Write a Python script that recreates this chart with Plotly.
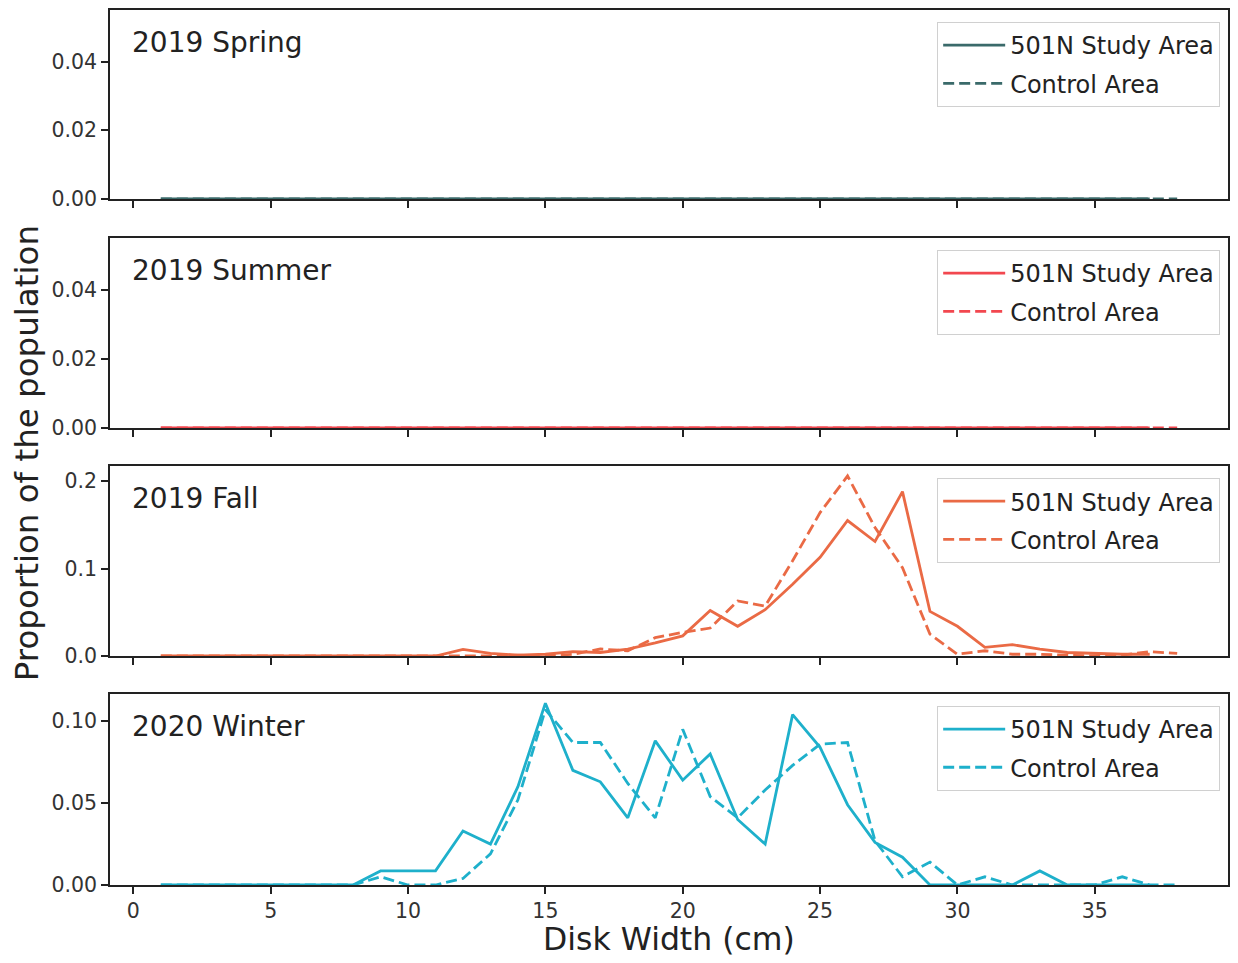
import plotly.graph_objects as go
from plotly.subplots import make_subplots

# disk width bins (cm)
x_study = list(range(1, 38))
x_control = list(range(1, 39))

seasons = ["2019 Spring", "2019 Summer", "2019 Fall", "2020 Winter"]
colors = ["#3a6a6a", "#f2474f", "#ea6a45", "#1eb0cb"]

spring_study = [0.0] * 37
spring_control = [0.0] * 38
summer_study = [0.0] * 37
summer_control = [0.0] * 38

fall_study = [0, 0, 0, 0, 0, 0, 0, 0, 0, 0, 0, 0.0076, 0.003, 0.001, 0.002,
              0.005, 0.004, 0.008, 0.015, 0.023, 0.052, 0.034, 0.053, 0.082,
              0.113, 0.155, 0.131, 0.188, 0.051, 0.034, 0.010, 0.013, 0.008,
              0.004, 0.003, 0.002, 0.002]
fall_control = [0, 0, 0, 0, 0, 0, 0, 0, 0, 0, 0, 0, 0, 0.001, 0.0, 0.002,
                0.008, 0.006, 0.021, 0.027, 0.032, 0.063, 0.057, 0.109, 0.164,
                0.206, 0.147, 0.101, 0.025, 0.002, 0.006, 0.002, 0.002, 0.001,
                0.0, 0.001, 0.005, 0.003]

winter_study = [0, 0, 0, 0, 0, 0, 0, 0, 0.0086, 0.0086, 0.0086, 0.033, 0.025,
                0.060, 0.111, 0.070, 0.063, 0.041, 0.088, 0.064, 0.080, 0.040,
                0.025, 0.104, 0.084, 0.049, 0.026, 0.017, 0, 0, 0, 0, 0.0086,
                0, 0, 0, 0]
winter_control = [0, 0, 0, 0, 0, 0, 0, 0, 0.005, 0, 0, 0.004, 0.019, 0.052,
                  0.107, 0.087, 0.087, 0.062, 0.041, 0.095, 0.054, 0.041, 0.058,
                  0.073, 0.086, 0.087, 0.027, 0.005, 0.014, 0, 0.005, 0, 0, 0,
                  0, 0.005, 0, 0]

study = [spring_study, summer_study, fall_study, winter_study]
control = [spring_control, summer_control, fall_control, winter_control]

y_ranges = [[0, 0.055], [0, 0.055], [0, 0.2174], [0, 0.1166]]
y_ticks = [[0, 0.02, 0.04], [0, 0.02, 0.04], [0, 0.1, 0.2], [0, 0.05, 0.10]]
y_fmt = [".2f", ".2f", ".1f", ".2f"]

x_ticks = [0, 5, 10, 15, 20, 25, 30, 35]

FONT = "DejaVu Sans"

fig = make_subplots(rows=4, cols=1, shared_xaxes=True, vertical_spacing=0.0434)

legend_y = [0.9863, 0.7257, 0.4651, 0.2046]

for i in range(4):
    lg = "legend" if i == 0 else f"legend{i + 1}"
    fig.add_trace(go.Scatter(
        x=x_study, y=study[i], mode="lines", name="501N Study Area",
        line=dict(color=colors[i], width=2.8),
        legend=lg, legendgroup=f"s{i}"
    ), row=i + 1, col=1)
    fig.add_trace(go.Scatter(
        x=x_control, y=control[i], mode="lines", name="Control Area",
        line=dict(color=colors[i], width=2.8, dash="11px,5px"),
        legend=lg, legendgroup=f"c{i}"
    ), row=i + 1, col=1)

    fig.update_yaxes(
        range=y_ranges[i], tickvals=y_ticks[i], tickformat=y_fmt[i],
        showgrid=False, zeroline=False, showline=True, mirror=True,
        linecolor="#222", linewidth=1.5, ticks="outside", ticklen=7,
        tickwidth=1.5, tickcolor="#222",
        tickfont=dict(family=FONT, size=20.5, color="#333"),
        row=i + 1, col=1
    )
    fig.update_xaxes(
        range=[-0.85, 39.85], tickvals=x_ticks,
        showgrid=False, zeroline=False, showline=True, mirror=True,
        linecolor="#222", linewidth=1.5, ticks="outside", ticklen=7,
        tickwidth=1.5, tickcolor="#222",
        tickfont=dict(family=FONT, size=20.5, color="#333"),
        row=i + 1, col=1
    )

    xref = "x domain" if i == 0 else f"x{i + 1} domain"
    yref = "y domain" if i == 0 else f"y{i + 1} domain"
    fig.add_annotation(
        text=seasons[i], xref=xref, yref=yref, x=0.018, y=0.83,
        xanchor="left", yanchor="middle", showarrow=False,
        font=dict(family=FONT, size=28, color="#222")
    )

    fig.update_layout({lg: dict(
        x=0.993, y=legend_y[i], xanchor="right", yanchor="top",
        bgcolor="rgba(255,255,255,0.8)", bordercolor="#d0d0d0", borderwidth=1,
        font=dict(family=FONT, size=24, color="#222"),
        tracegroupgap=4, itemwidth=62
    )})

fig.add_annotation(
    text="Proportion of the population", xref="paper", yref="paper",
    x=-0.074, y=0.4937, textangle=-90, showarrow=False,
    xanchor="center", yanchor="middle",
    font=dict(family=FONT, size=32.5, color="#222")
)
fig.add_annotation(
    text="Disk Width (cm)", xref="paper", yref="paper",
    x=0.5, y=-0.0617, showarrow=False, xanchor="center", yanchor="middle",
    borderpad=0, height=34, font=dict(family=FONT, size=31.5, color="#222")
)

domains = [[0.784, 1.0], [0.5223, 0.7394], [0.2617, 0.4789], [0.0, 0.2183]]
for i in range(4):
    fig.update_layout({("yaxis" if i == 0 else f"yaxis{i + 1}"): dict(domain=domains[i])})

# page body adds ~8px around the figure, so the figure is a bit smaller
fig.update_layout(
    width=1222, height=947,
    margin=dict(l=102, r=0, t=2, b=70),
    paper_bgcolor="white", plot_bgcolor="white",
    font=dict(family=FONT, color="#222"),
    showlegend=True
)

fig.write_html("out.html")
